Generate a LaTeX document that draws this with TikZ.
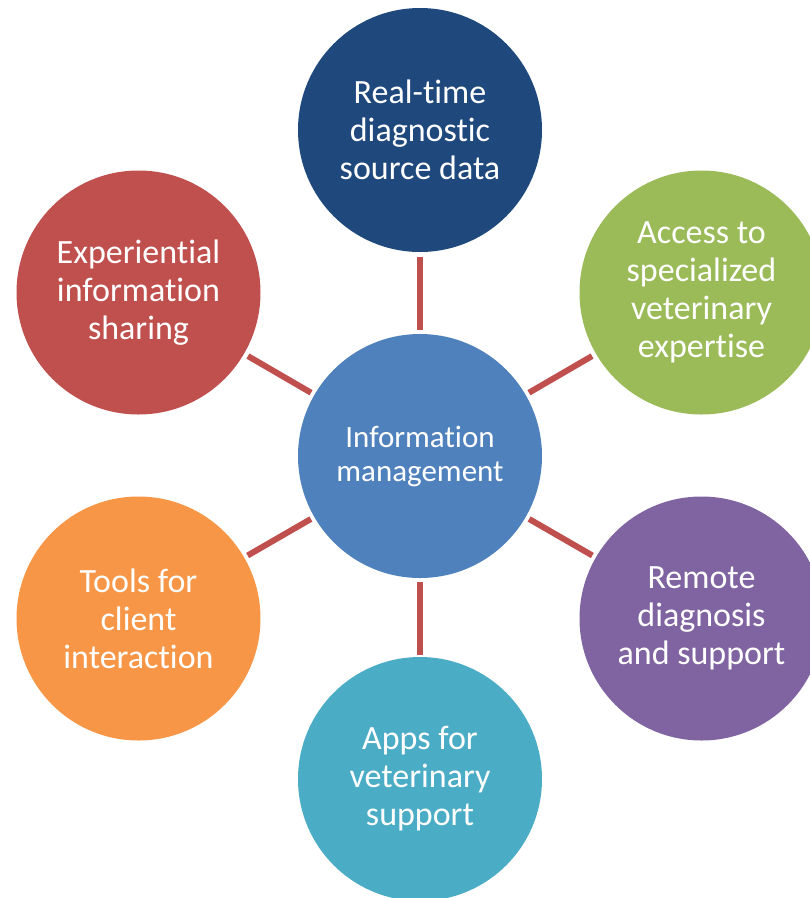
\documentclass[tikz,border=0pt]{standalone}
\usepackage{fontspec}
\setmainfont{Carlito}[Ligatures={NoCommon}]
\usetikzlibrary{calc}
\definecolor{cTop}{HTML}{1F497D}
\definecolor{cMid}{HTML}{4F81BD}
\definecolor{cGreen}{HTML}{9BBB59}
\definecolor{cPurple}{HTML}{8064A2}
\definecolor{cCyan}{HTML}{4BACC6}
\definecolor{cOrange}{HTML}{F79646}
\definecolor{cRed}{HTML}{C0504D}
\tikzset{
  bubble/.style={circle, minimum size=244pt, inner sep=0pt, text=white, align=center,
    font=\fontsize{34}{38}\selectfont},
  hub/.style={bubble, font=\fontsize{31}{34}\selectfont},
  link/.style={draw=cRed, line width=6pt},
}
\begin{document}
\begin{tikzpicture}[x=1pt,y=-1pt]
\useasboundingbox (0,0) rectangle (810,898);
\clip (0,0) rectangle (810,898);
\node[hub, fill=cMid] (c) at (420,456) {Information\\management};
\node[bubble, fill=cTop] (t) at (420,130) {Real-time\\diagnostic\\source data};
\node[bubble, fill=cGreen] (tr) at (701.5,292.5) {Access to\\specialized\\veterinary\\expertise};
\node[bubble, fill=cPurple] (br) at (701.5,618.5) {Remote\\diagnosis\\and support};
\node[bubble, fill=cCyan] (b) at (420,779) {Apps for\\veterinary\\support};
\node[bubble, fill=cOrange] (bl) at (138.5,618.5) {Tools for\\client\\interaction};
\node[bubble, fill=cRed] (tl) at (138.5,292.5) {Experiential\\information\\sharing};
\foreach \n in {t,tr,br,b,bl,tl}{
  \path[link] ($(c)!126pt!(\n)$) -- ($(c)!199pt!(\n)$);
}
\end{tikzpicture}
\end{document}
